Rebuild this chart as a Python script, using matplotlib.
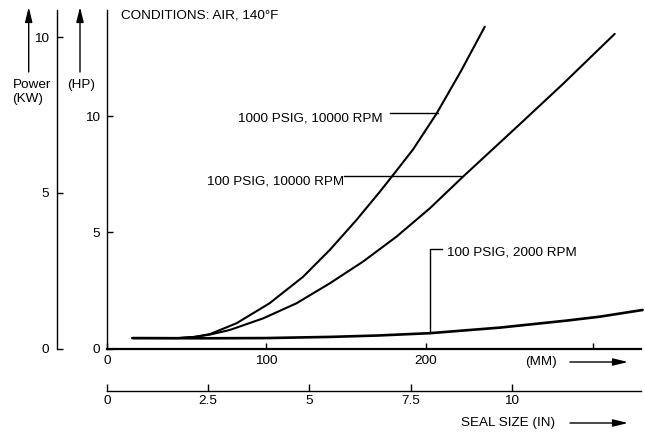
import numpy as np
import matplotlib
matplotlib.use("Agg")
import matplotlib.pyplot as plt
from matplotlib.patches import FancyArrowPatch

plt.rcParams['font.family'] = ['Liberation Sans', 'DejaVu Sans']
plt.rcParams['font.size'] = 9.7

# Datos: tamaño del sello (mm) y potencia (HP)
mm_1000psig = [16, 45, 55, 64.6, 81.3, 102, 123, 139.8, 156.5, 171.2, 179.5, 192, 206.7, 222, 237]
hp_1000psig = [0.45, 0.45, 0.50, 0.62, 1.09, 1.95, 3.09, 4.25, 5.54, 6.76, 7.48, 8.58, 10.12, 11.95, 13.87]

mm_100psig = [16, 45, 55, 64.6, 77.1, 98, 118.9, 139.8, 160.7, 181.6, 202.5, 223.4, 257.9, 286, 318.5]
hp_100psig = [0.45, 0.45, 0.50, 0.60, 0.80, 1.30, 1.95, 2.81, 3.75, 4.82, 6.04, 7.41, 9.6, 11.4, 13.56]

mm_2000rpm = [16, 60, 100, 140, 170, 202.5, 246.4, 288, 309, 336]
hp_2000rpm = [0.45, 0.44, 0.45, 0.50, 0.56, 0.66, 0.90, 1.20, 1.37, 1.66]

mm_ticks = [0, 100, 200, 304.8]
mm_labels = ['0', '100', '200', '']
in_ticks = [0, 2.5, 5, 7.5, 10]
in_labels = ['0', '2.5', '5', '7.5', '10']
hp_ticks = [0, 5, 10]
kw_ticks = [0, 5, 10]

W, H = 645, 433
xmax_mm = 335
ymax_hp = 14.59
kw_per_hp = 0.7457

def fx(px):
    return px / W

def fy(py):
    return 1 - py / H

fig = plt.figure(figsize=(W / 100, H / 100), dpi=100)

# Ejes principales (mm vs HP)
ax = fig.add_axes([fx(107), fy(348.5), (641 - 107) / W, (348.5 - 10) / H])
ax.plot(mm_1000psig, hp_1000psig, color='black', lw=1.5, solid_capstyle='round', solid_joinstyle='round')
ax.plot(mm_100psig, hp_100psig, color='black', lw=1.5, solid_capstyle='round', solid_joinstyle='round')
ax.plot(mm_2000rpm, hp_2000rpm, color='black', lw=1.9, solid_capstyle='round', solid_joinstyle='round', clip_on=False)
ax.set_xlim(0, xmax_mm)
ax.set_ylim(0, ymax_hp)
for s in ['top', 'right']:
    ax.spines[s].set_visible(False)
ax.spines['left'].set_linewidth(1.0)
ax.spines['bottom'].set_linewidth(1.6)
ax.set_xticks(mm_ticks)
ax.set_xticklabels(mm_labels)
ax.set_yticks(hp_ticks)
ax.tick_params(axis='both', direction='in', length=4, width=1.0, pad=5, labelsize=9.7)

# Etiquetas de curvas con lineas guia
ax.text(173, 9.80, '1000 PSIG, 10000 RPM', ha='right', va='baseline')
ax.plot([177.5, 207.5], [10.15, 10.15], color='black', lw=1.0)
ax.text(148.6, 7.09, '100 PSIG, 10000 RPM', ha='right', va='baseline')
ax.plot([148.8, 222.0], [7.45, 7.45], color='black', lw=1.0)
ax.text(213.2, 3.99, '100 PSIG, 2000 RPM', ha='left', va='baseline')
ax.plot([202.5, 202.5, 210], [0.66, 4.29, 4.29], color='black', lw=1.0)
ax.text(8.8, 14.37, 'CONDITIONS: AIR, 140°F', ha='left', va='center')

# Eje KW a la izquierda
ax_kw = fig.add_axes([fx(57), fy(348.5), 0.0001, (348.5 - 10) / H])
ax_kw.set_ylim(0, ymax_hp * kw_per_hp)
ax_kw.set_xticks([])
for s in ['top', 'right', 'bottom']:
    ax_kw.spines[s].set_visible(False)
ax_kw.spines['left'].set_linewidth(1.0)
ax_kw.set_yticks(kw_ticks)
ax_kw.tick_params(axis='y', direction='in', length=4, width=1.0, pad=6, labelsize=9.7)
ax_kw.patch.set_visible(False)

# Eje en pulgadas debajo
ax_in = fig.add_axes([fx(107), fy(391), (641 - 107) / W, 0.0001])
ax_in.set_xlim(0, xmax_mm / 25.4)
ax_in.set_yticks([])
for s in ['top', 'right', 'left']:
    ax_in.spines[s].set_visible(False)
ax_in.spines['bottom'].set_linewidth(1.0)
ax_in.set_xticks(in_ticks)
ax_in.set_xticklabels(in_labels)
ax_in.tick_params(axis='x', direction='in', length=5, width=1.0, pad=3, labelsize=9.7)
ax_in.patch.set_visible(False)

# Titulos de ejes y flechas
fig.text(fx(13), fy(85), 'Power', ha='left', va='center')
fig.text(fx(12), fy(99), '(KW)', ha='left', va='center')
fig.text(fx(81), fy(85), '(HP)', ha='center', va='center')
fig.text(fx(541), fy(362), '(MM)', ha='center', va='center')
fig.text(fx(508), fy(423), 'SEAL SIZE (IN)', ha='center', va='center')

def flecha(p0, p1):
    a = FancyArrowPatch((fx(p0[0]), fy(p0[1])), (fx(p1[0]), fy(p1[1])),
                        transform=fig.transFigure,
                        arrowstyle='-|>,head_length=0.9,head_width=0.22',
                        mutation_scale=10, color='black', lw=1.0,
                        shrinkA=0, shrinkB=0)
    fig.add_artist(a)

flecha((28.7, 72), (28.7, 7))
flecha((80, 72), (80, 7))
flecha((570, 362), (628, 362))
flecha((570, 423), (628, 423))

fig.savefig('out.png', dpi=100)
